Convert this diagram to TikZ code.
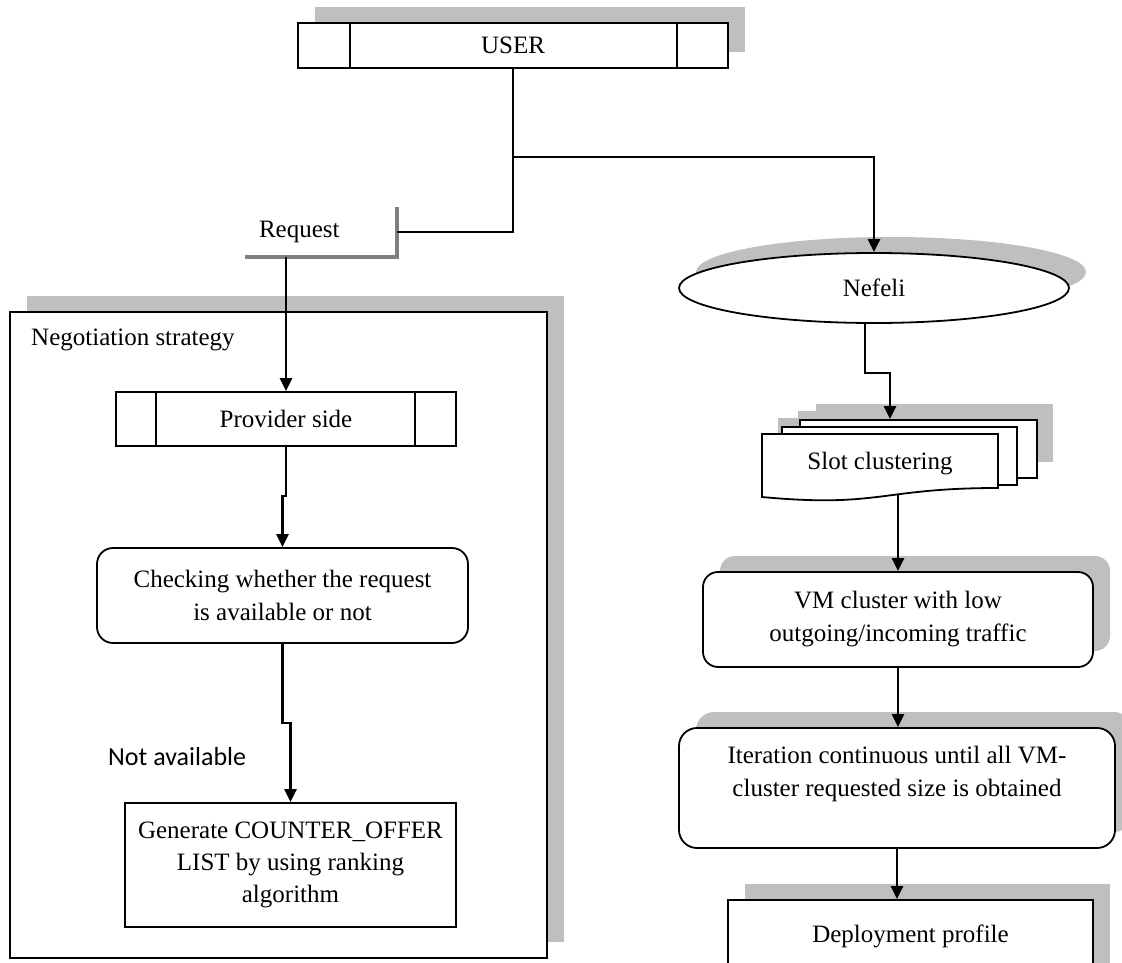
\documentclass[tikz,border=0pt]{standalone}
\usepackage{fontspec}
\setmainfont{Liberation Serif}
\newfontfamily\calibrifont{Carlito}
\usetikzlibrary{arrows.meta,shapes.geometric,shadows,calc}
\definecolor{shadowgray}{HTML}{BFBFBF}
\definecolor{calloutgray}{HTML}{7F7F7F}
\begin{document}
\begin{tikzpicture}[x=1pt,y=-1pt,
  font=\fontsize{25}{33}\selectfont,
  box/.style={draw, line width=1.8pt, fill=white, align=center, inner sep=0pt},
  shadowed/.style={general shadow={fill=shadowgray, shadow xshift=17pt, shadow yshift=16pt}},
  conn/.style={line width=2.4pt},
  arr/.style={conn, -{Triangle[length=13pt,width=12pt]}},
  divider/.style={line width=1.8pt}]
\useasboundingbox (0,0) rectangle (1122,963);
\clip (0,0) rectangle (1122,963);

% Negotiation strategy frame
\node[box, shadowed, minimum width=537pt, minimum height=646pt] (neg) at (278.5,635) {};
\node[anchor=west, inner sep=0pt] (neglabel) at (31,340) {Negotiation strategy};

% USER
\node[box, shadowed, minimum width=430pt, minimum height=45pt] (user) at (513,45.5) {USER};
\draw[divider] ([xshift=53pt]user.north west) -- ([xshift=53pt]user.south west);
\draw[divider] ([xshift=-52pt]user.north east) -- ([xshift=-52pt]user.south east);

% Request callout
\node[inner xsep=14pt, inner ysep=0pt, text width=124pt, align=left, minimum height=50pt] (request) at (321,232) {Request};
\draw[calloutgray, line width=4pt] (request.north east) -- (request.south east) -- (request.south west);

% Provider side
\node[box, minimum width=340pt, minimum height=54pt] (provider) at (286,419) {Provider side};
\draw[divider] ([xshift=41pt]provider.north west) -- ([xshift=41pt]provider.south west);
\draw[divider] ([xshift=-42pt]provider.north east) -- ([xshift=-42pt]provider.south east);

% Checking
\node[box, rounded corners=16pt, minimum width=371pt, minimum height=95pt] (checking) at (282.5,595.5) {Checking whether the request\\is available or not};

% Generate
\node[box, minimum width=331pt, minimum height=124pt, font=\fontsize{25}{32}\selectfont] (generate) at (290.5,865) {Generate COUNTER\_OFFER\\LIST by using ranking\\algorithm};

\node[anchor=west, inner sep=0pt, font=\calibrifont\fontsize{26}{31}\selectfont] (notavail) at (108,757) {Not available};

% Nefeli
\node[box, shadowed, ellipse, minimum width=390pt, minimum height=70pt] (nefeli) at (874,288) {Nefeli};

% Slot clustering (multi-document)
\fill[shadowgray] (816,404) rectangle (1053,462);
\fill[shadowgray] (798,411) rectangle (1033,469);
\fill[shadowgray] (778,418) rectangle (1014,480);
\node[box, minimum width=237pt, minimum height=58pt] (slotback) at (918.5,449) {};
\node[box, minimum width=235pt, minimum height=58pt] (slotmid) at (899.5,456) {};
\draw[line width=1.8pt, fill=white] (762,434) -- (998,434) -- (998,488) .. controls (880,488) and (880,508) .. (762,497) -- cycle;
\node[inner sep=0pt, minimum width=236pt, minimum height=60pt] (slot) at (880,464) {\raisebox{6pt}{Slot clustering}};

% VM cluster
\node[box, shadowed, rounded corners=15pt, minimum width=390pt, minimum height=95pt] (vm) at (898,619.5) {VM cluster with low\\outgoing/incoming traffic};

% Iteration
\node[box, shadowed, rounded corners=18pt, minimum width=436pt, minimum height=120pt] (iter) at (897,788) {Iteration continuous until all VM-\\cluster requested size is obtained\\\mbox{}};

% Deployment profile
\node[box, shadowed, minimum width=365pt, minimum height=80pt] (deploy) at (910.5,940) {\raisebox{13pt}{Deployment profile}};

% Connectors
\coordinate (split) at (513,157);
\draw[conn] (user.south) -- (split);
\draw[arr] (split) -| (nefeli.north);
\draw[conn] (split) |- (request.east);
\draw[arr] (request.south -| provider.north) -- (provider.north);
\draw[arr] (provider.south) -- ++(0,49) -| (checking.north);
\draw[arr] (checking.south) -- ++(0,79) -| (generate.north);
\draw[arr] ([xshift=-9pt]nefeli.south) -- ++(0,49) -| ([xshift=-28.5pt]slotback.north);
\draw[arr] (slot.south -| vm.north) -- (vm.north);
\draw[arr] (vm.south) -- ++(0,24) -| ([xshift=1pt]iter.north);
\draw[arr] (iter.south) -- (iter.south |- deploy.north);
\end{tikzpicture}
\end{document}
